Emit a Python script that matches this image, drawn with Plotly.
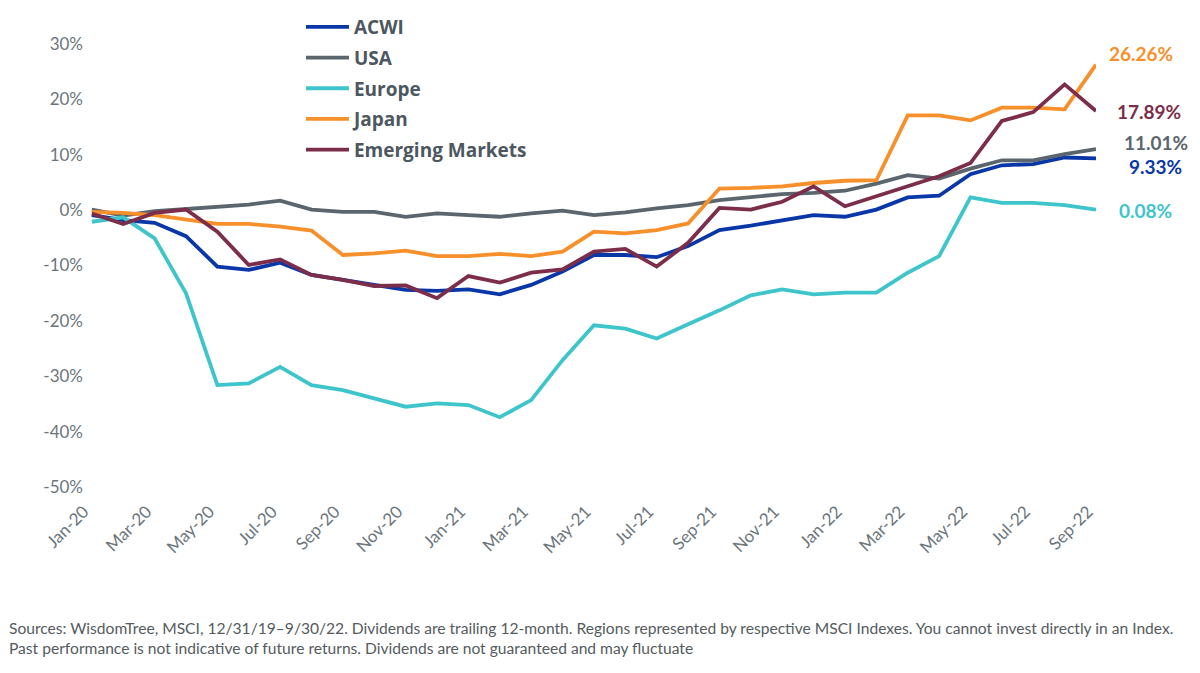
import plotly.graph_objects as go

months = ["Jan-20", "Feb-20", "Mar-20", "Apr-20", "May-20", "Jun-20", "Jul-20", "Aug-20",
          "Sep-20", "Oct-20", "Nov-20", "Dec-20", "Jan-21", "Feb-21", "Mar-21", "Apr-21",
          "May-21", "Jun-21", "Jul-21", "Aug-21", "Sep-21", "Oct-21", "Nov-21", "Dec-21",
          "Jan-22", "Feb-22", "Mar-22", "Apr-22", "May-22", "Jun-22", "Jul-22", "Aug-22",
          "Sep-22"]

acwi = [-0.9, -1.8, -2.3, -4.7, -10.2, -10.8, -9.5, -11.7, -12.6, -13.5, -14.4, -14.6,
        -14.3, -15.2, -13.5, -11.1, -8.1, -8.1, -8.5, -6.5, -3.6, -2.8, -1.9, -0.9,
        -1.2, 0.1, 2.3, 2.6, 6.5, 8.1, 8.3, 9.5, 9.33]
usa = [0.1, -1.0, -0.2, 0.2, 0.5, 1.0, 1.7, 0.1, -0.3, -0.3, -1.2, -0.6,
       -0.9, -1.2, -0.6, -0.1, -0.9, -0.4, 0.3, 0.9, 1.8, 2.4, 2.9, 3.1,
       3.5, 4.8, 6.3, 5.7, 7.5, 9.0, 9.0, 10.1, 11.01]
europe = [-2.1, -1.3, -5.1, -15.0, -31.6, -31.3, -28.3, -31.6, -32.5, -34.0, -35.5, -34.9,
          -35.2, -37.4, -34.3, -27.1, -20.8, -21.4, -23.2, -20.6, -18.1, -15.4, -14.3, -15.2,
          -14.9, -14.9, -11.3, -8.3, 2.3, 1.3, 1.3, 0.9, 0.08]
japan = [-0.3, -0.5, -0.9, -1.7, -2.5, -2.5, -3.0, -3.7, -8.1, -7.8, -7.3, -8.3,
         -8.3, -7.9, -8.3, -7.5, -3.9, -4.2, -3.6, -2.4, 3.9, 4.0, 4.3, 4.9,
         5.3, 5.4, 17.1, 17.1, 16.2, 18.5, 18.5, 18.2, 26.26]
em = [-0.6, -2.5, -0.5, 0.1, -3.9, -9.9, -8.9, -11.7, -12.6, -13.7, -13.6, -15.9,
      -11.9, -13.1, -11.3, -10.7, -7.5, -7.0, -10.2, -5.9, 0.4, 0.1, 1.5, 4.3,
      0.7, 2.5, 4.3, 6.1, 8.5, 16.1, 17.7, 22.7, 17.89]

y_ticks = [30, 20, 10, 0, -10, -20, -30, -40, -50]
y_labels = ["30%", "20%", "10%", "0%", "-10%", "-20%", "-30%", "-40%", "-50%"]

series = [
    ("ACWI", acwi, "#0a37a8"),
    ("USA", usa, "#5a656d"),
    ("Europe", europe, "#3ec5cb"),
    ("Japan", japan, "#f7902a"),
    ("Emerging Markets", em, "#7b2d4a"),
]
# end-label nudges (px): x, y
label_shift = {"ACWI": (31, -8), "USA": (26, 7), "Europe": (21, -1),
               "Japan": (11, 11), "Emerging Markets": (19, 0)}

fig = go.Figure()
for name, vals, col in series:
    fig.add_trace(go.Scatter(x=months, y=vals, name=name, mode="lines",
                             legendgroup=name,
                             line=dict(color=col, width=3.8)))
    dx, dy = label_shift[name]
    fig.add_annotation(x=months[-1], y=vals[-1], text="<b>%.2f%%</b>" % vals[-1],
                       showarrow=False, xanchor="left", yanchor="middle",
                       xshift=dx, yshift=dy,
                       font=dict(family="Lato", size=19, color=col))

# footnote
fig.add_annotation(
    text="Sources: WisdomTree, MSCI, 12/31/19–9/30/22. Dividends are trailing 12-month. "
         "Regions represented by respective MSCI Indexes. You cannot invest directly in an Index."
         "<br>Past performance is not indicative of future returns. Dividends are not guaranteed and may fluctuate",
    xref="paper", yref="paper", x=0, y=0, xanchor="left", yanchor="top",
    xshift=-77, yshift=-130, align="left", showarrow=False,
    font=dict(family="Lato", size=15.6, color="#555b60"))

# page body adds an 8px margin, so the figure is laid out 8px up/left
fig.update_layout(
    width=1184, height=657,
    margin=dict(l=76, r=96, t=0, b=178),
    plot_bgcolor="white", paper_bgcolor="white",
    font=dict(family="Lato", color="#6b757c"),
    showlegend=True,
    legend=dict(x=0.2144, y=1.0, xanchor="left", yanchor="top",
                font=dict(family="Open Sans", size=19, color="#4d5760", weight="bold"),
                tracegroupgap=3, itemwidth=43, bgcolor="rgba(0,0,0,0)"),
    xaxis=dict(type="category", range=[-0.25, 32], tickvals=months[::2],
               tickangle=-45, showgrid=False, zeroline=False, showline=False,
               ticks="outside", ticklen=4, tickcolor="white", automargin=False,
               ticklabelstandoff=3, ticklabelshift=-8,
               tickfont=dict(size=17, color="#6b757c")),
    yaxis=dict(range=[-50, 36.5], tickvals=y_ticks, ticktext=y_labels,
               showgrid=False, zeroline=False, showline=False,
               ticks="", automargin=False,
               tickfont=dict(size=17, color="#6b757c")),
)

fig.write_html("out.html")
